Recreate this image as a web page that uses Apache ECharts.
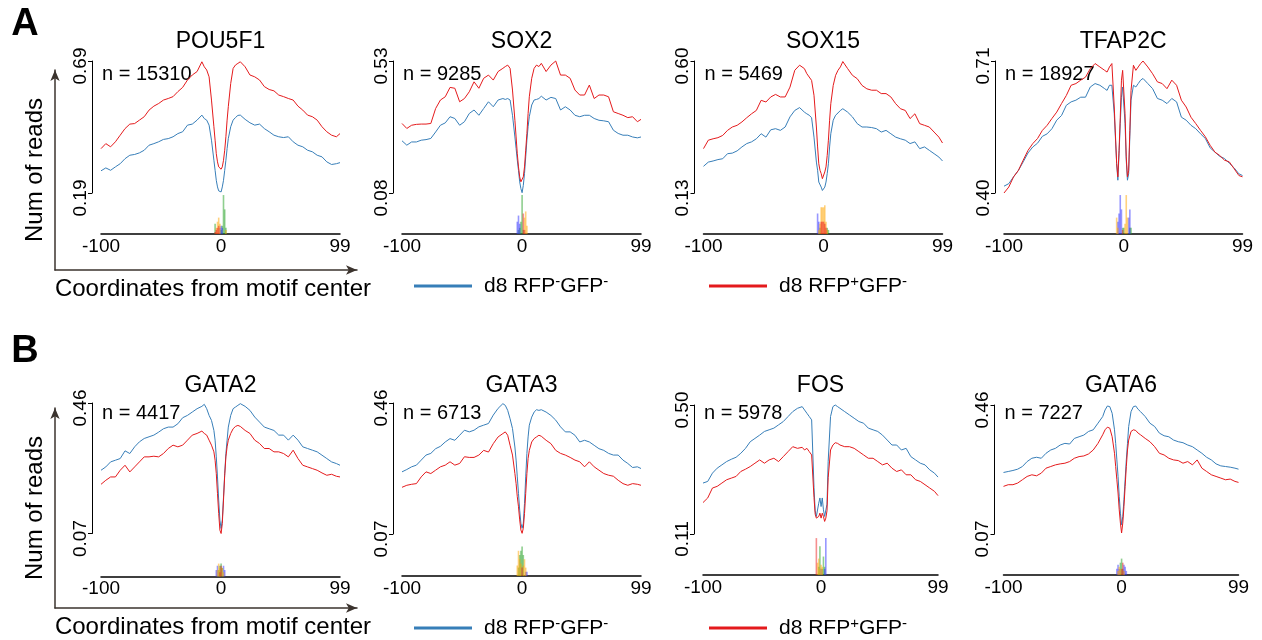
<!DOCTYPE html>
<html><head><meta charset="utf-8">
<script src="https://cdn.jsdelivr.net/npm/echarts@6/dist/echarts.min.js"></script>
<style>html,body{margin:0;padding:0;background:#fff}#c{width:1262px;height:640px}</style>
</head><body><div id="c"></div>
<script>
// ---------------- DATA ----------------
const positions = [-100,-96,-92,-88,-84,-80,-76,-72,-68,-64,-60,-56,-52,-48,-44,-40,-36,-32,-28,-24,-20,-16,-14,-12,-10,-8,-6,-5,-4,-3,-2,-1,0,1,2,3,4,5,6,8,10,12,14,16,20,24,28,32,36,40,44,48,52,56,60,64,68,72,76,80,84,88,92,96,99];
const logoPositions = [-6,-5,-4,-3,-2,-1,0,1,2,3,4,5,6];
const xTickLabels = [-100, 0, 99];
const panelNames = ['POU5F1','SOX2','SOX15','TFAP2C','GATA2','GATA3','FOS','GATA6'];
const panelCounts = ['15310','9285','5469','18927','4417','6713','5978','7227'];
const yMin = [0.19,0.08,0.13,0.40,0.07,0.07,0.11,0.07];
const yMax = [0.69,0.53,0.60,0.71,0.46,0.46,0.50,0.46];
const seriesNames = ['d8 RFP-GFP-','d8 RFP+GFP-'];
const axisTitles = ['Num of reads','Coordinates from motif center'];
const panelLetters = ['A','B'];

const pou5f1Blue = [0.274,0.285,0.276,0.289,0.301,0.320,0.333,0.336,0.342,0.352,0.371,0.377,0.384,0.393,0.396,0.403,0.415,0.422,0.447,0.451,0.466,0.485,0.472,0.466,0.447,0.39,0.314,0.276,0.238,0.213,0.198,0.191,0.194,0.213,0.238,0.276,0.314,0.358,0.396,0.441,0.466,0.476,0.484,0.485,0.469,0.456,0.447,0.451,0.434,0.422,0.409,0.403,0.400,0.403,0.384,0.371,0.365,0.352,0.346,0.333,0.327,0.308,0.298,0.301,0.305];
const pou5f1Red = [0.358,0.377,0.365,0.384,0.409,0.434,0.451,0.453,0.466,0.479,0.504,0.519,0.529,0.542,0.548,0.555,0.574,0.590,0.618,0.637,0.650,0.687,0.668,0.656,0.630,0.542,0.441,0.39,0.339,0.308,0.289,0.282,0.28,0.289,0.314,0.352,0.403,0.466,0.517,0.605,0.662,0.675,0.681,0.687,0.668,0.637,0.630,0.618,0.593,0.582,0.577,0.561,0.555,0.548,0.542,0.519,0.504,0.485,0.479,0.466,0.441,0.422,0.409,0.403,0.415];
const sox2Blue = [0.258,0.243,0.254,0.254,0.260,0.262,0.266,0.288,0.311,0.319,0.340,0.334,0.311,0.323,0.351,0.363,0.345,0.368,0.391,0.374,0.397,0.402,0.399,0.402,0.397,0.345,0.271,0.232,0.192,0.157,0.118,0.095,0.081,0.106,0.146,0.203,0.260,0.306,0.340,0.380,0.397,0.399,0.402,0.410,0.397,0.406,0.402,0.363,0.374,0.363,0.345,0.340,0.345,0.345,0.334,0.328,0.326,0.323,0.294,0.283,0.277,0.277,0.271,0.268,0.271];
const sox2Red = [0.317,0.300,0.311,0.314,0.315,0.315,0.317,0.368,0.397,0.408,0.440,0.437,0.391,0.402,0.425,0.459,0.437,0.471,0.482,0.465,0.494,0.505,0.511,0.516,0.505,0.431,0.328,0.271,0.214,0.169,0.135,0.118,0.118,0.135,0.169,0.226,0.283,0.351,0.408,0.471,0.505,0.516,0.511,0.522,0.494,0.516,0.530,0.482,0.482,0.471,0.431,0.414,0.414,0.448,0.402,0.414,0.414,0.408,0.357,0.351,0.345,0.337,0.340,0.323,0.331];
const sox15Blue = [0.225,0.240,0.244,0.249,0.252,0.270,0.272,0.280,0.294,0.306,0.312,0.323,0.341,0.329,0.355,0.359,0.353,0.365,0.401,0.424,0.434,0.418,0.412,0.407,0.398,0.329,0.240,0.211,0.169,0.163,0.151,0.139,0.132,0.151,0.169,0.199,0.234,0.294,0.341,0.389,0.407,0.415,0.424,0.430,0.418,0.401,0.377,0.365,0.365,0.363,0.359,0.347,0.353,0.341,0.329,0.323,0.318,0.306,0.312,0.288,0.294,0.282,0.270,0.258,0.244];
const sox15Red = [0.288,0.318,0.323,0.327,0.335,0.353,0.365,0.371,0.383,0.398,0.412,0.424,0.460,0.454,0.472,0.481,0.472,0.472,0.507,0.567,0.585,0.573,0.555,0.543,0.531,0.478,0.365,0.294,0.234,0.211,0.199,0.181,0.187,0.205,0.223,0.264,0.318,0.389,0.448,0.513,0.549,0.567,0.579,0.598,0.573,0.549,0.537,0.513,0.501,0.496,0.496,0.484,0.484,0.472,0.448,0.430,0.424,0.395,0.412,0.377,0.371,0.365,0.347,0.329,0.308];
const tfap2cBlue = [0.416,0.422,0.438,0.453,0.473,0.494,0.508,0.517,0.533,0.539,0.551,0.571,0.582,0.606,0.614,0.618,0.625,0.625,0.649,0.657,0.653,0.645,0.641,0.653,0.653,0.586,0.469,0.430,0.492,0.563,0.625,0.649,0.645,0.563,0.477,0.430,0.445,0.532,0.618,0.653,0.649,0.657,0.665,0.669,0.657,0.645,0.622,0.618,0.610,0.622,0.614,0.578,0.571,0.559,0.551,0.539,0.528,0.506,0.496,0.486,0.481,0.470,0.459,0.445,0.441];
const tfap2cRed = [0.400,0.414,0.438,0.453,0.477,0.500,0.516,0.528,0.547,0.559,0.575,0.590,0.610,0.629,0.653,0.657,0.665,0.672,0.692,0.704,0.696,0.688,0.684,0.696,0.704,0.602,0.469,0.438,0.500,0.578,0.665,0.688,0.684,0.586,0.485,0.438,0.453,0.547,0.641,0.700,0.688,0.696,0.704,0.710,0.696,0.680,0.661,0.657,0.645,0.665,0.653,0.618,0.602,0.578,0.563,0.547,0.532,0.512,0.496,0.488,0.477,0.473,0.457,0.441,0.438];
const gata2Blue = [0.259,0.269,0.284,0.289,0.294,0.317,0.309,0.329,0.344,0.354,0.359,0.364,0.373,0.383,0.388,0.388,0.398,0.416,0.423,0.433,0.443,0.450,0.456,0.443,0.423,0.408,0.378,0.349,0.299,0.239,0.170,0.110,0.085,0.110,0.179,0.249,0.309,0.349,0.388,0.423,0.443,0.448,0.453,0.458,0.450,0.438,0.418,0.403,0.388,0.383,0.378,0.364,0.364,0.349,0.364,0.349,0.329,0.324,0.319,0.314,0.304,0.294,0.284,0.279,0.274];
const gata2Red = [0.217,0.229,0.239,0.239,0.259,0.274,0.254,0.269,0.284,0.299,0.299,0.301,0.299,0.309,0.324,0.334,0.329,0.334,0.349,0.364,0.369,0.376,0.369,0.364,0.349,0.334,0.314,0.289,0.249,0.189,0.130,0.080,0.070,0.100,0.170,0.244,0.299,0.329,0.349,0.369,0.383,0.390,0.393,0.390,0.378,0.369,0.349,0.339,0.324,0.324,0.314,0.314,0.309,0.299,0.319,0.294,0.274,0.269,0.264,0.259,0.251,0.244,0.247,0.241,0.239];
const gata3Blue = [0.255,0.262,0.270,0.275,0.290,0.305,0.310,0.324,0.331,0.344,0.354,0.349,0.364,0.379,0.374,0.379,0.389,0.394,0.399,0.424,0.444,0.458,0.453,0.438,0.413,0.384,0.329,0.290,0.240,0.191,0.141,0.102,0.087,0.102,0.161,0.240,0.310,0.359,0.394,0.418,0.433,0.440,0.438,0.440,0.433,0.423,0.409,0.389,0.374,0.374,0.364,0.344,0.349,0.344,0.334,0.324,0.319,0.310,0.305,0.305,0.290,0.280,0.268,0.270,0.265];
const gata3Red = [0.209,0.215,0.218,0.220,0.240,0.255,0.250,0.260,0.270,0.275,0.285,0.275,0.280,0.300,0.298,0.298,0.305,0.319,0.314,0.339,0.359,0.369,0.374,0.364,0.334,0.305,0.250,0.220,0.181,0.151,0.112,0.082,0.072,0.087,0.131,0.191,0.250,0.295,0.319,0.344,0.354,0.359,0.364,0.361,0.349,0.339,0.319,0.310,0.305,0.298,0.290,0.285,0.270,0.285,0.270,0.260,0.250,0.245,0.242,0.230,0.220,0.215,0.220,0.218,0.215];
const fosBlue = [0.264,0.269,0.294,0.309,0.319,0.329,0.336,0.342,0.354,0.369,0.389,0.399,0.409,0.420,0.425,0.430,0.440,0.450,0.465,0.480,0.490,0.495,0.485,0.475,0.465,0.455,0.250,0.180,0.163,0.163,0.203,0.219,0.193,0.219,0.183,0.163,0.165,0.200,0.330,0.465,0.495,0.500,0.495,0.490,0.480,0.470,0.460,0.450,0.445,0.430,0.425,0.420,0.409,0.394,0.379,0.379,0.364,0.369,0.344,0.334,0.324,0.319,0.304,0.294,0.282];
const fosRed = [0.205,0.219,0.249,0.254,0.264,0.274,0.279,0.284,0.299,0.306,0.314,0.324,0.334,0.324,0.334,0.339,0.329,0.344,0.359,0.374,0.369,0.372,0.364,0.369,0.359,0.349,0.220,0.170,0.158,0.153,0.163,0.173,0.158,0.173,0.163,0.148,0.158,0.180,0.280,0.364,0.379,0.386,0.384,0.379,0.374,0.374,0.369,0.359,0.349,0.339,0.339,0.329,0.319,0.324,0.309,0.299,0.304,0.289,0.289,0.274,0.269,0.259,0.249,0.239,0.226];
const gata6Blue = [0.256,0.259,0.262,0.266,0.274,0.289,0.299,0.302,0.299,0.314,0.324,0.329,0.339,0.344,0.342,0.359,0.364,0.369,0.380,0.385,0.405,0.425,0.445,0.457,0.455,0.435,0.385,0.344,0.294,0.244,0.184,0.133,0.098,0.123,0.174,0.234,0.294,0.344,0.395,0.440,0.455,0.457,0.447,0.440,0.425,0.405,0.395,0.375,0.367,0.364,0.354,0.349,0.346,0.339,0.334,0.324,0.314,0.302,0.294,0.282,0.276,0.274,0.272,0.269,0.266];
const gata6Red = [0.214,0.219,0.219,0.224,0.234,0.244,0.249,0.246,0.254,0.269,0.274,0.279,0.282,0.284,0.289,0.299,0.304,0.306,0.312,0.324,0.344,0.370,0.385,0.393,0.390,0.364,0.314,0.274,0.234,0.194,0.143,0.103,0.073,0.103,0.153,0.214,0.274,0.324,0.354,0.380,0.385,0.383,0.375,0.370,0.359,0.349,0.334,0.314,0.309,0.299,0.294,0.292,0.284,0.289,0.279,0.294,0.269,0.259,0.249,0.244,0.239,0.234,0.236,0.229,0.226];

// motif logo heights (bits) at logoPositions, per base A, C, G, T
const pou5f1A = [0,0.5,0,0,0,0,0.2,0.4,1.9,1.2,0.3,0,0];
const pou5f1C = [0,0,0,0,0,0.3,0.4,0.3,0,0,0,0,0];
const pou5f1G = [0,0,0.3,0.6,0.8,0.5,0,0,0,0,0.2,0,0];
const pou5f1T = [0,0.1,0.2,0.3,0.4,0,0,0,0,0,0,0,0];
const sox2A = [0,0,0,0.2,0.3,0.6,1.9,0.2,0,0,0,0,0];
const sox2C = [0,0,0.6,0.9,0.5,0,0,0,0,0,0,0,0];
const sox2G = [0,0,0,0,0,0,0,0,0.8,1.1,0.4,0,0];
const sox2T = [0,0,0,0,0,0,0,1.0,0.2,0,0,0,0];
const sox15A = [0,0,0,0.3,0,0,0,0,0,0.3,0.2,0,0];
const sox15C = [0,1.0,0.6,0,0,0,0,0,0,0,0,0,0];
const sox15G = [0,0,0.2,0.5,1.3,1.3,1.3,1.4,0.6,0.2,0,0,0];
const sox15T = [0,0,0,0,0.6,0.6,0.6,0.5,0.3,0,0,0,0];
const tfap2cA = [0,0,0,0,0,0.3,0.3,0,0,0,0,0.3,0.3];
const tfap2cC = [0,0.6,1.0,1.9,1.2,0,0,0,0,0,0.8,1.2,0];
const tfap2cG = [0.8,0.3,0,0,0,0,0,0.5,1.9,0.8,0,0,0];
const tfap2cT = [0,0,0,0,0,0.2,0,0,0,0,0,0,0];
const gata2A = [0,0,0,0,0.3,0.5,0.6,0.4,0,0,0,0,0];
const gata2C = [0,0,0.3,0.5,0,0,0,0,0.5,0.3,0,0,0];
const gata2G = [0,0,0,0.3,0.6,0.4,0,0.4,0.2,0,0,0,0];
const gata2T = [0,0,0,0,0,0.2,0.5,0,0,0,0,0,0];
const gata3A = [0,0,0,0.4,1.0,1.2,1.4,1.0,0,0,0,0,0];
const gata3C = [0,0,0,0,0,0,0,0,0,0.2,0.2,0,0];
const gata3G = [0,0,0.5,1.2,0.8,0.6,0,0.5,0.8,0.4,0,0,0];
const gata3T = [0,0,0,0,0,0,0.4,0,0,0,0,0,0];
const fosA = [0,0,0,0,0.4,1.4,0,0.3,0.9,0.4,0,0,0];
const fosC = [0,0,0,0,0,0,0.3,0,0,0.3,1.8,0,0];
const fosG = [0,0,0,0.6,0.8,0.3,0.5,0.4,0,0,0,0,0];
const fosT = [0,0,1.8,0,0,0,0,0,0,0,0,0,0];
const gata6A = [0,0,0,0,0,0.6,0.8,0.3,0,0,0,0,0];
const gata6C = [0,0,0.3,0.5,0.3,0,0,0,0.5,0.4,0.2,0,0];
const gata6G = [0,0,0,0.2,0.4,0.3,0,0,0.2,0,0,0,0];
const gata6T = [0,0,0,0,0,0,0.3,0.6,0,0,0,0,0];

// ---------------- LAYOUT / STYLE ----------------
const font = "'Liberation Sans', Arial, Helvetica, sans-serif";
const lineColors = ['#377eb8', '#e41a1c'];
const baseColors = ['#1fa01f', '#3030ff', '#ffa500', '#ee2020'];
const layout = [
  {left:101, width:239, top:61, cb:193, ax:234, ty:42, ny:74.5},
  {left:402, width:239, top:61, cb:193, ax:234, ty:42, ny:74.5},
  {left:703.5, width:239, top:61, cb:193, ax:234, ty:42, ny:74.5},
  {left:1004, width:238.5, top:61, cb:193, ax:234, ty:42, ny:74.5},
  {left:101, width:239, top:403, cb:533.5, ax:576.5, ty:386, ny:413},
  {left:402, width:239, top:403, cb:534, ax:576, ty:386, ny:413},
  {left:703, width:235, top:405, cb:534, ax:575, ty:386, ny:413},
  {left:1003.5, width:235, top:405, cb:534, ax:575, ty:386, ny:413}
];
const arrowRows = [{top:70, bottom:270, letterY:25, legendY:286}, {top:408, bottom:608, letterY:352, legendY:628}];

const curves = [[pou5f1Blue,pou5f1Red],[sox2Blue,sox2Red],[sox15Blue,sox15Red],[tfap2cBlue,tfap2cRed],[gata2Blue,gata2Red],[gata3Blue,gata3Red],[fosBlue,fosRed],[gata6Blue,gata6Red]];
const logos = [[pou5f1A,pou5f1C,pou5f1G,pou5f1T],[sox2A,sox2C,sox2G,sox2T],[sox15A,sox15C,sox15G,sox15T],[tfap2cA,tfap2cC,tfap2cG,tfap2cT],[gata2A,gata2C,gata2G,gata2T],[gata3A,gata3C,gata3G,gata3T],[fosA,fosC,fosG,fosT],[gata6A,gata6C,gata6G,gata6T]];

const grids = [], xAxes = [], yAxes = [], series = [], graphics = [];
layout.forEach((p, i) => {
  grids.push({left:p.left, top:p.top, width:p.width, height:p.cb - p.top, outerBoundsMode:'none'});
  grids.push({left:p.left, top:p.cb, width:p.width, height:p.ax - p.cb, outerBoundsMode:'none'});
  xAxes.push({gridIndex:2*i, type:'value', min:-100, max:99, show:false});
  xAxes.push({gridIndex:2*i+1, type:'value', min:-100, max:99,
    axisLine:{show:true, onZero:false, lineStyle:{color:'#000', width:1.5}},
    axisTick:{show:false}, splitLine:{show:false},
    axisLabel:{customValues:xTickLabels, fontSize:19, color:'#000', fontFamily:font, margin:3}});
  yAxes.push({gridIndex:2*i, type:'value', min:yMin[i], max:yMax[i], offset:9,
    axisLine:{show:true, onZero:false, lineStyle:{color:'#000', width:1}},
    axisTick:{show:true, length:4, customValues:[yMin[i], yMax[i]], lineStyle:{color:'#000', width:1}},
    axisLabel:{customValues:[yMin[i], yMax[i]], rotate:90, fontSize:19, color:'#000', fontFamily:font, margin:2,
      padding:[0,10,0,0], formatter: v => v.toFixed(2)},
    splitLine:{show:false}});
  yAxes.push({gridIndex:2*i+1, type:'value', min:0, max:2, show:false});
  logos[i].forEach((arr, b) => {
    series.push({type:'bar', xAxisIndex:2*i+1, yAxisIndex:2*i+1, stack:'logo'+i, barWidth:1.6,
      data: logoPositions.map((x, k) => [x, arr[k]]),
      itemStyle:{color:baseColors[b], opacity:0.5}, silent:true});
  });
  curves[i].forEach((arr, s) => {
    series.push({type:'line', name:seriesNames[s], xAxisIndex:2*i, yAxisIndex:2*i,
      data: positions.map((x, k) => [x, arr[k]]), showSymbol:false, symbol:'none', clip:false, silent:true,
      lineStyle:{width:1, color:lineColors[s]}, itemStyle:{color:lineColors[s]}, z:3+s});
  });
  graphics.push({type:'text', x:p.left + p.width/2, y:p.ty,
    style:{text:panelNames[i], font:'23px ' + font, fill:'#000', align:'center', verticalAlign:'middle'}});
  graphics.push({type:'text', x:p.left + 1, y:p.ny,
    style:{text:'n = ' + panelCounts[i], font:'20px ' + font, fill:'#000', align:'left', verticalAlign:'middle'}});
});

const legends = [];
arrowRows.forEach((r, j) => {
  const gi = grids.length;
  grids.push({left:55, top:r.top, width:302, height:r.bottom - r.top, outerBoundsMode:'none'});
  const arrowAxis = {gridIndex:gi, type:'value', min:0, max:1,
    axisLine:{show:true, onZero:false, symbol:['none','arrow'], symbolSize:[7,11], lineStyle:{color:'#3b332e', width:1.5}},
    axisTick:{show:false}, axisLabel:{show:false}, splitLine:{show:false},
    nameLocation:'middle', nameGap:7, nameTextStyle:{fontSize:24, color:'#000', fontFamily:font}};
  xAxes.push(Object.assign({}, arrowAxis, {name:axisTitles[1],
    nameTextStyle:{fontSize:24, color:'#000', fontFamily:font, padding:[0,0,0,14]}}));
  yAxes.push(Object.assign({}, arrowAxis, {name:axisTitles[0], nameGap:8}));
  graphics.push({type:'text', x:25, y:r.letterY,
    style:{text:panelLetters[j], font:'bold 38px ' + font, fill:'#000', align:'center', verticalAlign:'middle'}});
  seriesNames.forEach((nm, s) => {
    legends.push({data:[nm], left:[414, 709][s], top:r.legendY - 12, padding:0, icon:'rect',
      itemWidth:58, itemHeight:3, selectedMode:false,
      formatter: name => s === 0 ? '{p|d8 RFP}{s|-}{a|GFP}{s|-}' : '{p|d8 RFP}{s|+}{a|GFP}{s|-}',
      textStyle:{fontSize:21, fontFamily:font, color:'#000',
        rich:{p:{fontSize:21, fontFamily:font, lineHeight:24, padding:[0,0,0,7]},
              a:{fontSize:21, fontFamily:font, lineHeight:24},
              s:{fontSize:15, fontFamily:font, lineHeight:15, verticalAlign:'top'}}}});
  });
});

const chart = echarts.init(document.getElementById('c'), null, {renderer:'canvas'});
chart.setOption({
  animation:false,
  textStyle:{fontFamily:font},
  grid:grids, xAxis:xAxes, yAxis:yAxes, series:series, legend:legends, graphic:graphics
});
</script>
</body></html>
